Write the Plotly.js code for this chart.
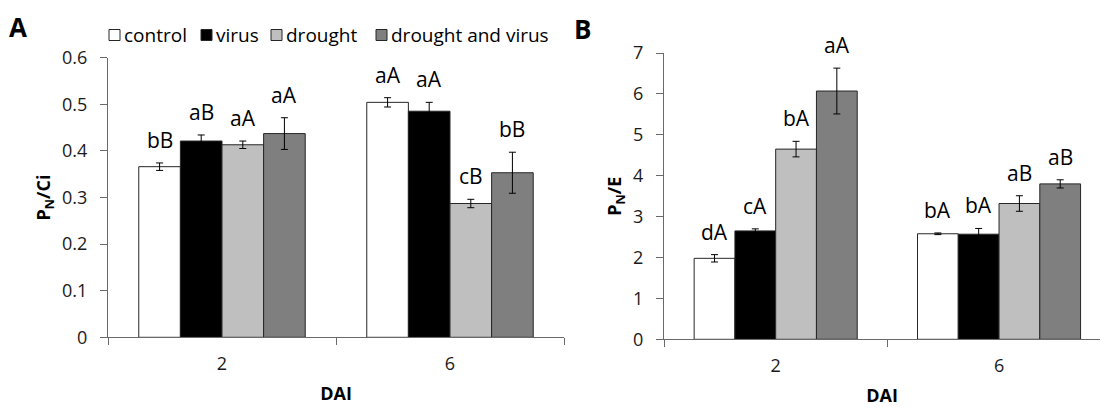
<!DOCTYPE html>
<html>
<head>
<meta charset="utf-8">
<script src="https://cdn.plot.ly/plotly-3.0.1.min.js"></script>
<style>
  html, body { margin: 0; padding: 0; background: #fff; }
  #chart { width: 1101px; height: 407px; }
</style>
</head>
<body>
<div id="chart"></div>
<script>
// Days after inoculation
const days = ['2', '6'];
const treatments = ['control', 'virus', 'drought', 'drought and virus'];

// Panel A: PN/Ci
const pnCi = {
  'control':           [0.366, 0.504],
  'virus':             [0.421, 0.485],
  'drought':           [0.413, 0.287],
  'drought and virus': [0.437, 0.353]
};
const pnCiErr = {
  'control':           [0.008, 0.010],
  'virus':             [0.013, 0.019],
  'drought':           [0.008, 0.009],
  'drought and virus': [0.034, 0.044]
};
const pnCiLetters = {
  'control':           ['bB', 'aA'],
  'virus':             ['aB', 'aA'],
  'drought':           ['aA', 'cB'],
  'drought and virus': ['aA', 'bB']
};

// Panel B: PN/E
const pnE = {
  'control':           [1.98, 2.58],
  'virus':             [2.65, 2.57],
  'drought':           [4.65, 3.32],
  'drought and virus': [6.07, 3.80]
};
const pnEErr = {
  'control':           [0.09, 0.02],
  'virus':             [0.05, 0.14],
  'drought':           [0.19, 0.19],
  'drought and virus': [0.56, 0.10]
};
const pnELetters = {
  'control':           ['dA', 'bA'],
  'virus':             ['cA', 'bA'],
  'drought':           ['bA', 'aB'],
  'drought and virus': ['aA', 'aB']
};

const fills = {
  'control': '#ffffff',
  'virus': '#000000',
  'drought': '#bfbfbf',
  'drought and virus': '#7f7f7f'
};

const W = 1101, H = 407;
const FONT = '"Open Sans", "Noto Sans", sans-serif';
const BARGAP = 0.27;
const barW = (1 - BARGAP) / treatments.length;
const edge = '#262626';

const traces = [];
const annotations = [];
const shapes = [];

function addPanel(values, errs, letters, xa, ya) {
  treatments.forEach((t, i) => {
    traces.push({
      type: 'bar',
      name: t,
      x: days,
      y: values[t],
      xaxis: xa,
      yaxis: ya,
      showlegend: false,
      marker: { color: fills[t], line: { color: edge, width: 1 } },
      error_y: { type: 'data', array: errs[t], visible: true, color: '#000', thickness: 1, width: 3.5 },
      hoverinfo: 'x+y+name'
    });
    // significance letters above each error bar
    const offset = (i - (treatments.length - 1) / 2) * barW;
    days.forEach((d, j) => {
      annotations.push({
        xref: xa, yref: ya,
        x: j + offset,
        y: values[t][j] + errs[t][j],
        text: letters[t][j],
        showarrow: false,
        yanchor: 'bottom',
        yshift: 7,
        font: { family: FONT, size: 21, color: '#000' }
      });
    });
  });
}

addPanel(pnCi, pnCiErr, pnCiLetters, 'x', 'y');
addPanel(pnE, pnEErr, pnELetters, 'x2', 'y2');

// Compact legend row above panel A: swatch + label per treatment
const legendSwatchX = [109, 201, 271, 376];
const legendTop = 29.5, legendSize = 11;
treatments.forEach((t, i) => {
  const x0 = legendSwatchX[i];
  shapes.push({
    type: 'rect', xref: 'paper', yref: 'paper',
    x0: x0 / W, x1: (x0 + legendSize) / W,
    y0: 1 - (legendTop + legendSize) / H, y1: 1 - legendTop / H,
    fillcolor: fills[t], line: { color: edge, width: 1 }
  });
  annotations.push({
    xref: 'paper', yref: 'paper',
    x: (x0 + legendSize + 2) / W, y: 1 - (legendTop + legendSize / 2) / H,
    xanchor: 'left', yanchor: 'middle',
    text: t, showarrow: false,
    font: { family: FONT, size: 19, color: '#000' }
  });
});

// Panel letters
annotations.push({ xref: 'paper', yref: 'paper', x: 7 / W, y: 1 - 7 / H, xanchor: 'left', yanchor: 'top',
  text: '<b>A</b>', showarrow: false, font: { family: FONT, size: 26, color: '#000' } });
annotations.push({ xref: 'paper', yref: 'paper', x: 572 / W, y: 1 - 9 / H, xanchor: 'left', yanchor: 'top',
  text: '<b>B</b>', showarrow: false, font: { family: FONT, size: 26, color: '#000' } });

const axisLine = '#6a6a6a';
const tickFont = { family: FONT, size: 18, color: '#1a1a1a' };
const titleFont = { family: FONT, size: 18, color: '#000' };

const xCommon = {
  type: 'category',
  showline: true, linecolor: axisLine, linewidth: 1,
  ticks: 'outside', tickson: 'boundaries', ticklen: 7, tickcolor: axisLine,
  ticklabelstandoff: 10,
  showgrid: false, zeroline: false,
  tickfont: tickFont,
  fixedrange: true
};
const yCommon = {
  showline: true, linecolor: axisLine, linewidth: 1,
  ticks: 'outside', ticklen: 7, tickcolor: axisLine,
  ticklabelstandoff: 9,
  showgrid: false, zeroline: false,
  tickfont: tickFont,
  fixedrange: true
};

const layout = {
  width: W, height: H,
  margin: { l: 0, r: 0, t: 0, b: 0 },
  paper_bgcolor: '#fff', plot_bgcolor: '#fff',
  barmode: 'group', bargap: BARGAP, bargroupgap: 0,
  font: { family: FONT, color: '#000' },
  showlegend: false,
  xaxis: Object.assign({}, xCommon, {
    domain: [108 / W, 564 / W], anchor: 'y', range: [-0.5, 1.5],
    title: { text: '<b>DAI</b>', font: titleFont, standoff: 13 }
  }),
  yaxis: Object.assign({}, yCommon, {
    domain: [1 - 337.3 / H, 1 - 57.6 / H], anchor: 'x', range: [0, 0.6], dtick: 0.1,
    tickformat: '.1~f',
    title: { text: '<b>P<sub>N</sub>/Ci</b>', font: titleFont, standoff: 6 }
  }),
  xaxis2: Object.assign({}, xCommon, {
    domain: [664 / W, 1100 / W], anchor: 'y2', range: [-0.5, 1.452],
    title: { text: '<b>DAI</b>', font: titleFont, standoff: 13 }
  }),
  yaxis2: Object.assign({}, yCommon, {
    domain: [1 - 339.3 / H, 1 - 53 / H], anchor: 'x2', range: [0, 7], dtick: 1,
    title: { text: '<b>P<sub>N</sub>/E</b>', font: titleFont, standoff: 6 }
  }),
  shapes: shapes,
  annotations: annotations
};

Plotly.newPlot('chart', traces, layout, { displayModeBar: false });
</script>
</body>
</html>
